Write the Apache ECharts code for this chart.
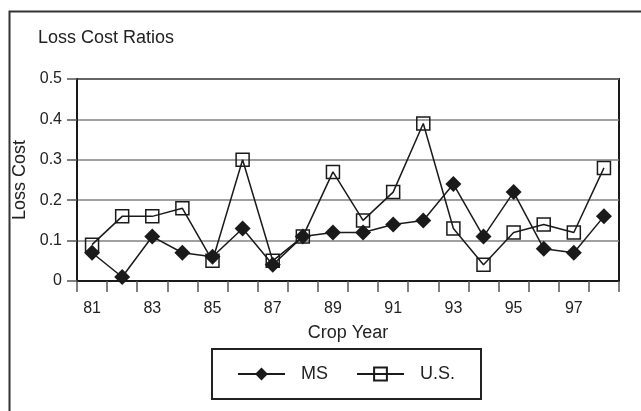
<!DOCTYPE html>
<html><head><meta charset="utf-8">
<script src="https://cdn.jsdelivr.net/npm/echarts@6/dist/echarts.min.js"></script>
<style>html,body{margin:0;padding:0;background:#fff}#c{width:641px;height:411px}</style>
</head><body><div id="c"></div>
<script>
var years = ['81','82','83','84','85','86','87','88','89','90','91','92','93','94','95','96','97','98'];
var msValues = [0.07,0.01,0.11,0.07,0.06,0.13,0.04,0.11,0.12,0.12,0.14,0.15,0.24,0.11,0.22,0.08,0.07,0.16];
var usValues = [0.09,0.16,0.16,0.18,0.05,0.30,0.05,0.11,0.27,0.15,0.22,0.39,0.13,0.04,0.12,0.14,0.12,0.28];
var titleText = 'Loss Cost Ratios';
var xName = 'Crop Year';
var yName = 'Loss Cost';

var font = 'Liberation Sans, Arial, sans-serif';
var chart = echarts.init(document.getElementById('c'), null, {renderer:'canvas'});
chart.setOption({
  backgroundColor:'#fff',
  animation:false,
  graphic:[{type:'rect', shape:{x:9.5,y:11.5,width:700,height:500}, style:{fill:'none', stroke:'#333', lineWidth:2}, z:-1}],
  title:{text:titleText, left:38, top:29, padding:0, textStyle:{fontFamily:font, fontSize:18, fontWeight:'normal', color:'#222'}},
  grid:{left:77, top:79, right:22, bottom:130, show:true, borderColor:'#1a1a1a', borderWidth:2, containLabel:false},
  legend:{left:212, top:349, width:272, orient:'horizontal', itemWidth:47, itemHeight:16, itemGap:28,
    padding:[16,26,16,25], borderColor:'#222', borderWidth:2,
    textStyle:{fontFamily:font, fontSize:18, color:'#222', padding:[0,0,0,11]},
    data:['MS','U.S.']},
  xAxis:{type:'category', data:years, boundaryGap:true,
    name:xName, nameLocation:'middle', nameGap:43, nameTextStyle:{fontFamily:font, fontSize:18, color:'#222'},
    axisLine:{show:true, lineStyle:{color:'#1a1a1a', width:2}},
    axisTick:{show:true, length:11, alignWithLabel:false, interval:0, lineStyle:{color:'#555', width:1.5}},
    axisLabel:{interval:1, margin:20, fontFamily:font, fontSize:16, color:'#222'},
    splitLine:{show:false}},
  yAxis:{type:'value', min:0, max:0.5, interval:0.1,
    name:yName, nameLocation:'middle', nameGap:37, nameTextStyle:{fontFamily:font, fontSize:18, color:'#222'},
    axisLine:{show:true, lineStyle:{color:'#1a1a1a', width:2}},
    axisTick:{show:true, length:10, lineStyle:{color:'#555', width:1.5}},
    axisLabel:{margin:15, fontFamily:font, fontSize:16, color:'#222', formatter:function(v){return v===0?'0':v.toFixed(1);}},
    splitLine:{show:true, lineStyle:{color:'#808080', width:1.5}}},
  series:[
    {name:'U.S.', type:'line', data:usValues, symbol:'rect', symbolSize:13, z:2,
      lineStyle:{color:'#1a1a1a', width:1.5},
      itemStyle:{color:'rgba(255,255,255,0)', borderColor:'#1a1a1a', borderWidth:1.5}},
    {name:'MS', type:'line', data:msValues, symbol:'diamond', symbolSize:[16,16], z:3,
      lineStyle:{color:'#1a1a1a', width:1.5},
      itemStyle:{color:'#1a1a1a', borderColor:'#1a1a1a', borderWidth:0}}
  ]
});
</script></body></html>
